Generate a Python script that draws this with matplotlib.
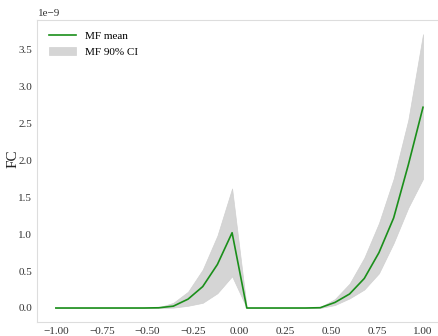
import numpy as np
import matplotlib
matplotlib.use("Agg")
import matplotlib.pyplot as plt

plt.rcParams['font.family'] = ['Liberation Serif', 'DejaVu Serif']

x = np.linspace(-1, 1, 26)
mean = [0, 0, 0, 0, 0, 0, 0, 0.003, 0.025, 0.12, 0.29, 0.59, 1.02,
        0, 0, 0, 0, 0, 0.004, 0.075, 0.19, 0.40, 0.75, 1.22, 1.94, 2.72]
upper = [0, 0, 0, 0, 0, 0, 0, 0.008, 0.07, 0.22, 0.52, 0.98, 1.62,
         0, 0, 0, 0, 0, 0.012, 0.12, 0.33, 0.68, 1.15, 1.75, 2.55, 3.71]
lower = [0, 0, 0, 0, 0, 0, 0, 0.0, 0.005, 0.03, 0.07, 0.20, 0.43,
         0, 0, 0, 0, 0, 0.0, 0.04, 0.13, 0.25, 0.47, 0.88, 1.36, 1.75]
scale = 1e-9

fig = plt.figure(figsize=(4.39, 3.36), dpi=100)
ax = fig.add_axes([0.0854, 0.0426, 0.92, 0.8964])

band = ax.fill_between(x, np.array(lower) * scale, np.array(upper) * scale,
                       color='#d3d3d3', alpha=0.95, linewidth=0.5, edgecolor='#cfcfcf',
                       label='MF 90% CI')
line, = ax.plot(x, np.array(mean) * scale, color='#1a8f1a', linewidth=1.2, label='MF mean')

ax.set_xticks([-1.0, -0.75, -0.5, -0.25, 0.0, 0.25, 0.5, 0.75, 1.0])
ax.set_yticks(np.arange(0, 3.6, 0.5) * scale)
ax.tick_params(length=0, labelsize=8, colors='#333333', pad=4)
ax.yaxis.get_offset_text().set_fontsize(8)
ax.yaxis.get_offset_text().set_color('#333333')
for s in ax.spines.values():
    s.set_color('#dddddd')
    s.set_linewidth(0.8)
ax.set_ylabel('FC', fontsize=11, color='#222222')
ax.yaxis.set_label_coords(-0.045, 0.54)

ax.legend(handles=[line, band], loc='upper left', frameon=False, fontsize=8,
          handlelength=2.5, borderaxespad=0.6)

fig.savefig('out.png', dpi=100)
